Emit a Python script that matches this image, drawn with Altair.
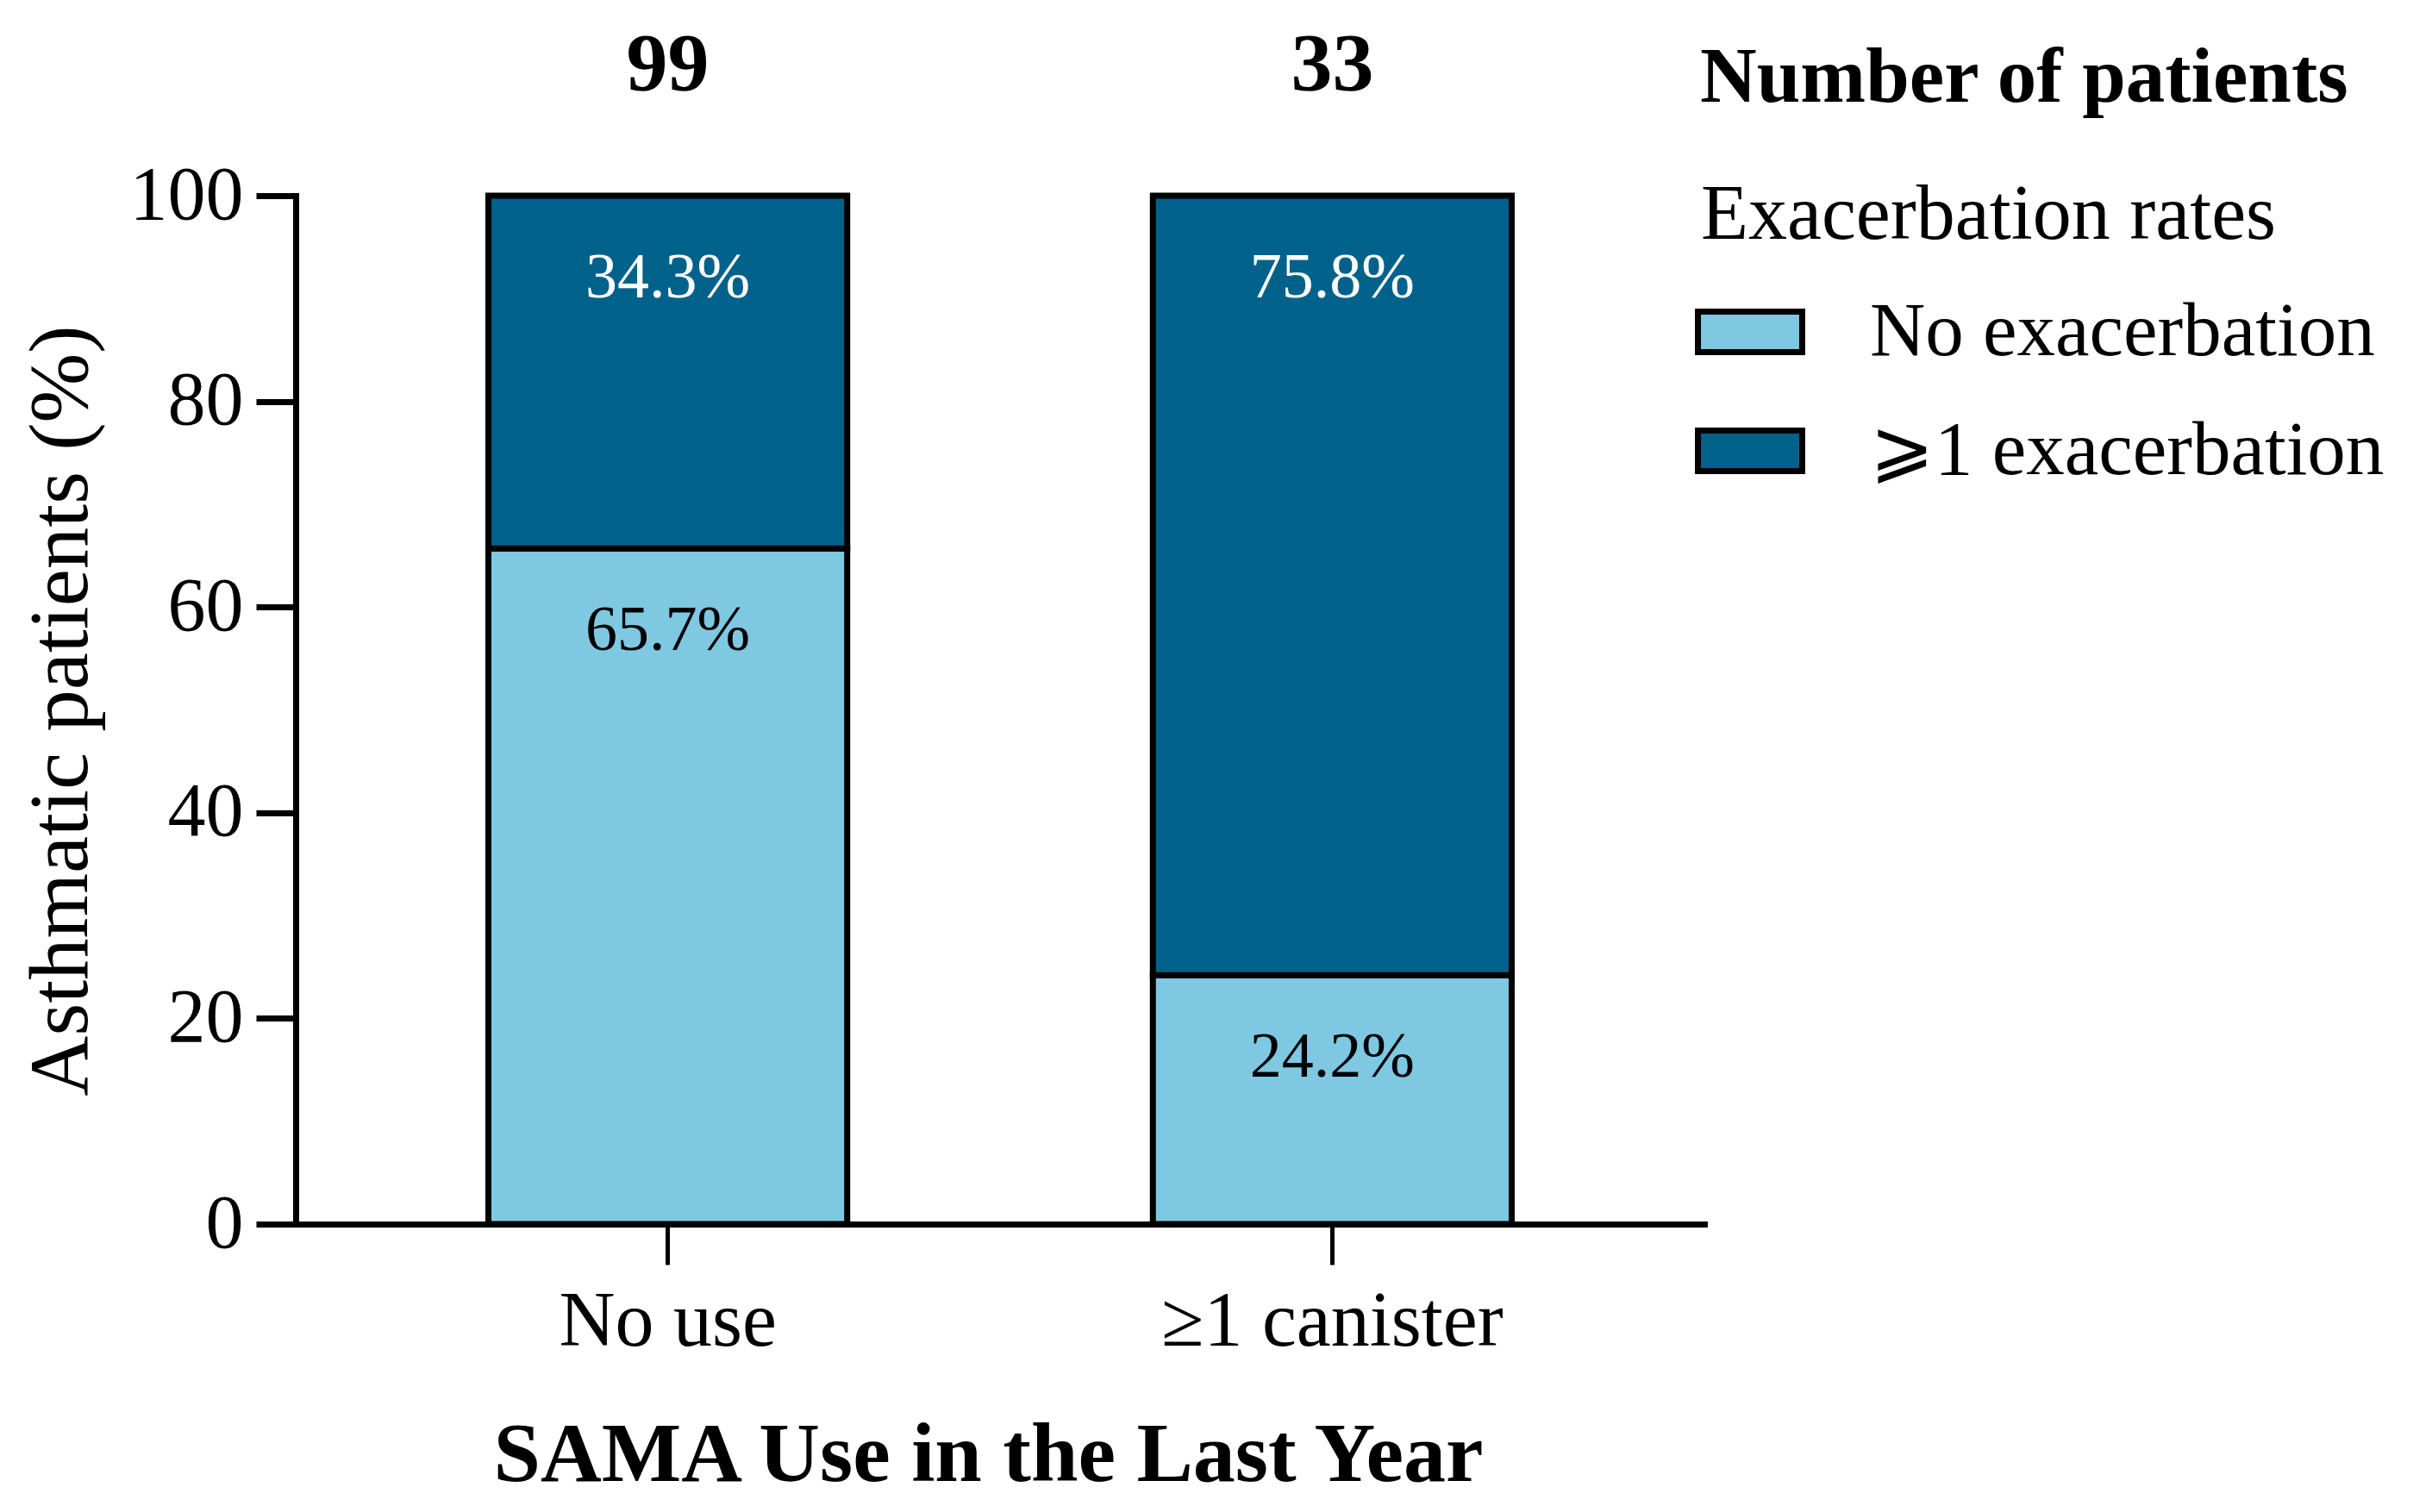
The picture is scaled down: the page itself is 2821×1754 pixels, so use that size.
import altair as alt
import pandas as pd

# ---- data ----
groups = ["No use", "≥1 canister"]
n_patients = [99, 33]
categories = ["No exacerbation", "⩾1 exacerbation"]
no_exacerbation = [65.7, 24.2]
one_or_more = [34.3, 75.8]
colors = ["#7EC8E2", "#00628A"]

rows = []
for g, a, b in zip(groups, no_exacerbation, one_or_more):
    rows.append({"group": g, "cat": categories[0], "value": a, "order": 0})
    rows.append({"group": g, "cat": categories[1], "value": b, "order": 1})
df = pd.DataFrame(rows)
counts = pd.DataFrame({"group": groups, "n": n_patients})
header = pd.DataFrame({"t": ["Number of patients"]})

FONT = "Liberation Serif"
W, H = 1634, 1193

xenc = alt.X(
    "group:N",
    sort=groups,
    scale=alt.Scale(paddingInner=0.46, paddingOuter=0.29),
    axis=alt.Axis(
        title="SAMA Use in the Last Year",
        labelAngle=0,
        tickSize=47,
        tickWidth=5,
        labelPadding=93,
        labelBaseline="alphabetic",
        labelFontSize=90,
        labelLimit=1000,
        titleBaseline="alphabetic",
        titleY=297,
        titleX=803,
        titleFontSize=98,
        titleFontWeight="bold",
        titleLimit=3000,
        domainWidth=7,
    ),
)

base = alt.Chart(df).transform_stack(
    stack="value",
    groupby=["group"],
    as_=["y0", "y1"],
    sort=[alt.SortField("order", order="ascending")],
)

bars = base.mark_bar(stroke="black", strokeWidth=7, opacity=1).encode(
    x=xenc,
    y=alt.Y(
        "y1:Q",
        scale=alt.Scale(domain=[0, 100], nice=False),
        axis=alt.Axis(
            values=[0, 20, 40, 60, 80, 100],
            tickSize=46,
            tickWidth=7,
            labelPadding=15,
            labelFontSize=88,
            title="Asthmatic patients (%)",
            titleFontSize=97,
            titleFontWeight="normal",
            titleAngle=270,
            titleBaseline="alphabetic",
            titleX=-243,
            titleY=597,
            titleLimit=3000,
            domainWidth=7,
        ),
    ),
    y2="y0:Q",
    color=alt.Color(
        "cat:N",
        scale=alt.Scale(domain=categories, range=colors),
        legend=alt.Legend(
            orient="none",
            legendX=1630,
            legendY=-21,
            title="Exacerbation rates",
            titleFont=FONT,
            titleFontSize=90,
            titleFontWeight="normal",
            titleColor="black",
            titleBaseline="top",
            titlePadding=32,
            titleLimit=2000,
            labelFont=FONT,
            labelFontSize=89,
            labelColor="black",
            labelOffset=82,
            labelLimit=2000,
            symbolType="M-1.13,-0.44H1.13V0.44H-1.13Z",
            symbolSize=11449,
            symbolStrokeColor="black",
            symbolStrokeWidth=7,
            symbolOpacity=1,
            rowPadding=36,
            padding=0,
        ),
    ),
    order=alt.Order("order:Q"),
)

labels = base.transform_calculate(
    lab="format(datum.value, '.1f') + '%'"
).mark_text(
    font=FONT, fontSize=74, baseline="alphabetic", dy=118, align="center"
).encode(
    x=alt.X("group:N", sort=groups),
    y=alt.Y("y1:Q"),
    text="lab:N",
    color=alt.condition(
        f"datum.cat == '{categories[1]}'", alt.value("white"), alt.value("black")
    ),
)

count_text = alt.Chart(counts).mark_text(
    font=FONT, fontSize=96, fontWeight="bold", baseline="alphabetic", align="center"
).encode(
    x=alt.X("group:N", sort=groups),
    y=alt.value(-122),
    text="n:Q",
    color=alt.value("black"),
)

header_text = alt.Chart(header).mark_text(
    font=FONT, fontSize=91, fontWeight="bold", baseline="alphabetic", align="left"
).encode(
    x=alt.value(1629),
    y=alt.value(-109),
    text="t:N",
    color=alt.value("black"),
)

chart = (
    alt.layer(bars, labels, count_text, header_text)
    .properties(
        width=W,
        height=H,
        autosize=alt.AutoSizeParams(type="none"),
        padding={"left": 335, "top": 219, "right": 836, "bottom": 326},
        background="white",
    )
    .configure_view(stroke=None)
    .configure_axis(
        domainColor="black",
        tickColor="black",
        labelColor="black",
        titleColor="black",
        labelFont=FONT,
        titleFont=FONT,
        grid=False,
        domainCap="square",
    )
)

chart.save("out.html", embed_options={"renderer": "svg", "actions": False})
